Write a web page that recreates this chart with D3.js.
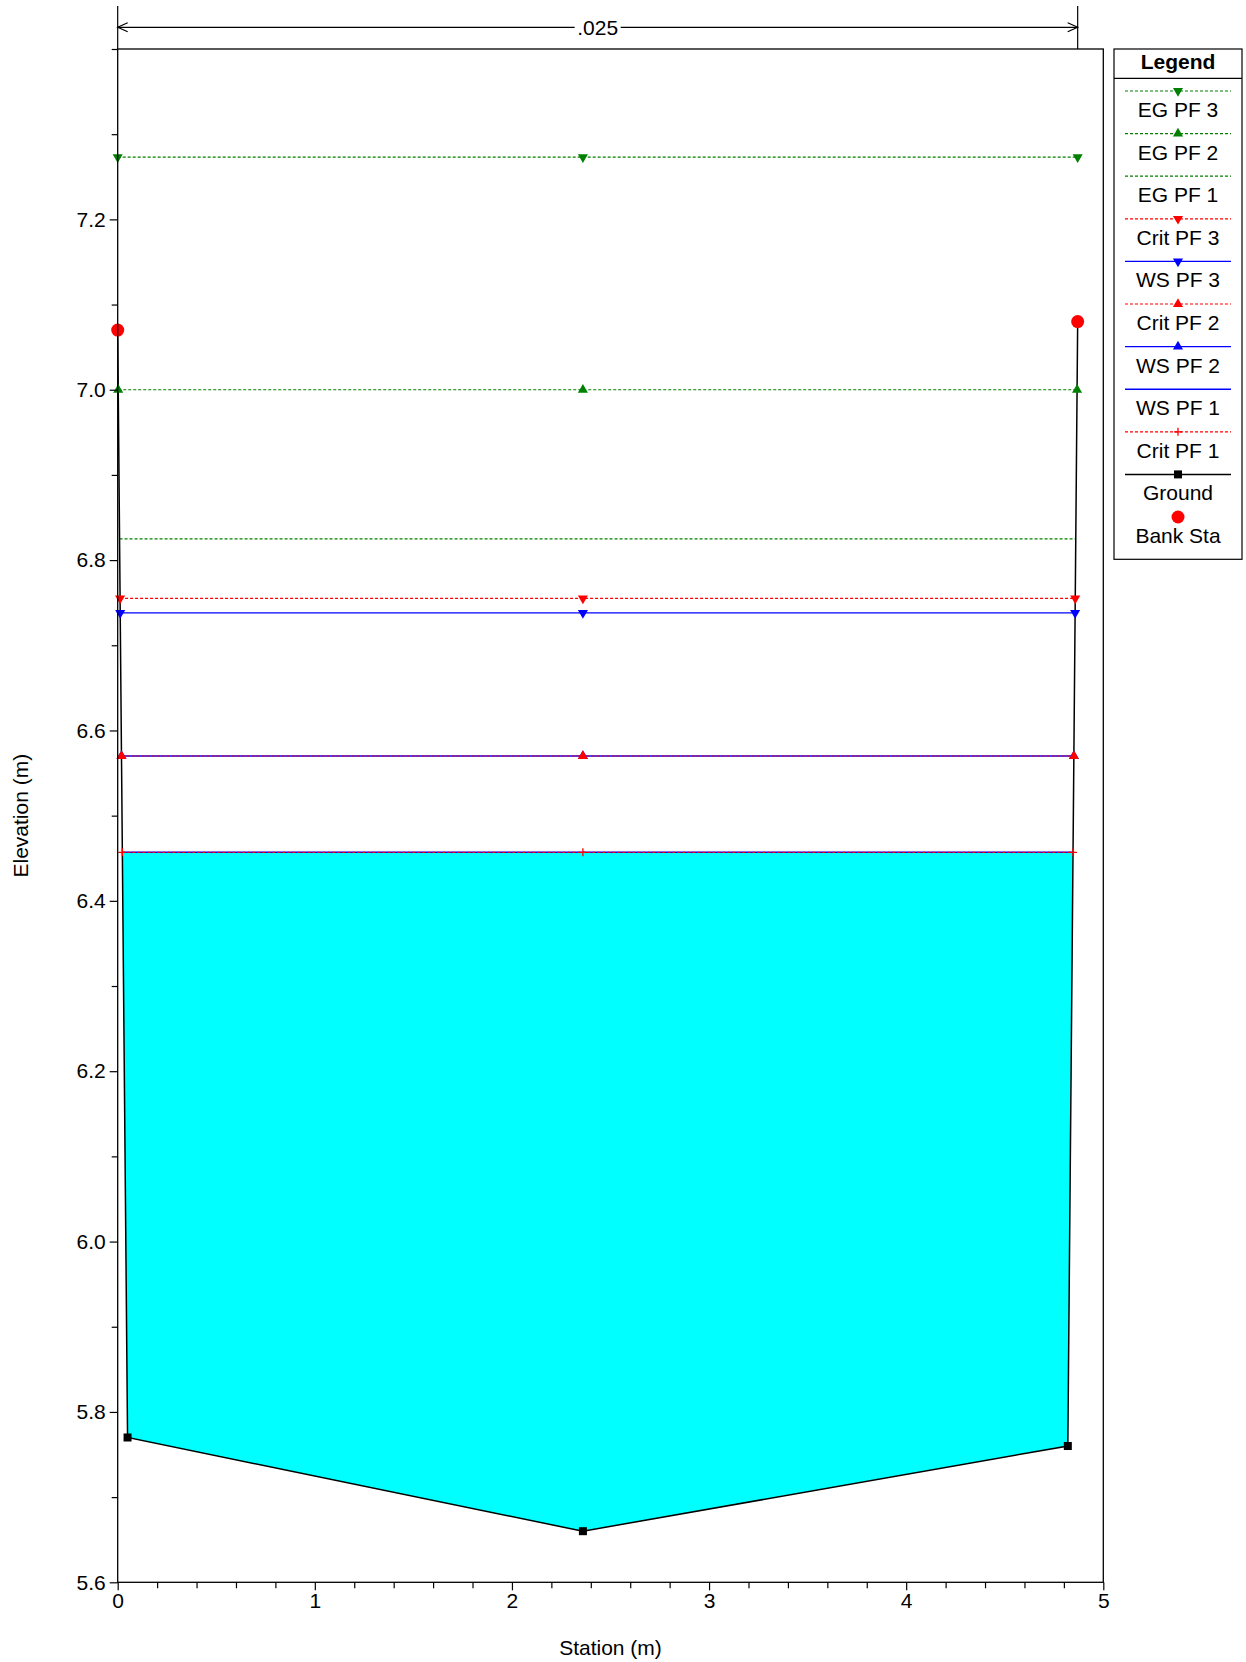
<!DOCTYPE html>
<html>
<head>
<meta charset="utf-8">
<script src="https://cdn.jsdelivr.net/npm/d3@7"></script>
<style>
  body { margin: 0; background: #fff; }
  svg text { font-family: "Liberation Sans", Arial, sans-serif; }
</style>
</head>
<body>
<svg id="chart" width="1246" height="1662"></svg>
<script>
// Cross section data
var groundStation = [0, 0.05, 2.36, 4.82, 4.87];
var groundElev = [7.07, 5.77, 5.66, 5.76, 7.08];
var bankStation = [0, 4.87];
var bankElev = [7.07, 7.08];

// Profiles, in legend order
var profileNames = ['EG PF 3', 'EG PF 2', 'EG PF 1', 'Crit PF 3', 'WS PF 3', 'Crit PF 2', 'WS PF 2', 'WS PF 1', 'Crit PF 1'];
var profileElev = [7.273, 7.000, 6.825, 6.755, 6.738, 6.570, 6.570, 6.457, 6.457];
var filledProfile = 'WS PF 1';

// Manning's n band along the top
var nValues = ['.025'];
var nStations = [0, 4.87];

var xTicks = [0, 1, 2, 3, 4, 5];
var yTicks = [5.6, 5.8, 6.0, 6.2, 6.4, 6.6, 6.8, 7.0, 7.2];

(function() {
// styling per profile
var Style = {
  'EG PF 3':   { color: '#008000', dash: '3,2', marker: 'down' },
  'EG PF 2':   { color: '#008000', dash: '3,2', marker: 'up' },
  'EG PF 1':   { color: '#008000', dash: '3,2', marker: null },
  'Crit PF 3': { color: '#ff0000', dash: '3,2', marker: 'down' },
  'WS PF 3':   { color: '#0000ff', dash: null,  marker: 'down' },
  'Crit PF 2': { color: '#ff0000', dash: '3,2', marker: 'up' },
  'WS PF 2':   { color: '#0000ff', dash: null,  marker: 'up' },
  'WS PF 1':   { color: '#0000ff', dash: null,  marker: null },
  'Crit PF 1': { color: '#ff0000', dash: '3,2', marker: 'plus' }
};

var svg = d3.select('#chart');
var pL = 117.7, pR = 1103.3, pT = 49, pB = 1582.3;
var x = d3.scaleLinear().domain([0, 5]).range([pL, pR]);
var y = d3.scaleLinear().domain([5.6, 7.4]).range([pB, pT]);

var ground = groundStation.map(function(s, i) { return [s, groundElev[i]]; });

// where a flat water surface meets the ground on each side
function edges(e) {
  var xl = ground[0][0], xr = ground[ground.length - 1][0];
  for (var i = 0; i < ground.length - 1; i++) {
    var a = ground[i], b = ground[i + 1];
    if (a[1] >= e && b[1] < e) { xl = a[0] + (b[0] - a[0]) * (a[1] - e) / (a[1] - b[1]); break; }
  }
  for (var j = ground.length - 1; j > 0; j--) {
    var c = ground[j], d = ground[j - 1];
    if (c[1] >= e && d[1] < e) { xr = c[0] - (c[0] - d[0]) * (c[1] - e) / (c[1] - d[1]); break; }
  }
  return [xl, xr];
}

var thalweg = groundStation[groundElev.indexOf(d3.min(groundElev))];
var line = d3.line().x(function(d) { return x(d[0]); }).y(function(d) { return y(d[1]); });

// water fill for the lowest profile
var fe = profileElev[profileNames.indexOf(filledProfile)];
var fEdge = edges(fe);
var poly = [[fEdge[0], fe]];
ground.forEach(function(p) { if (p[0] > fEdge[0] && p[0] < fEdge[1]) poly.push(p); });
poly.push([fEdge[1], fe]);
svg.append('path').attr('d', line(poly) + 'Z').attr('fill', '#00ffff');

function markerPath(kind) {
  if (kind === 'down' || kind === 'up') return d3.symbol().type(d3.symbolTriangle).size(44)();
  if (kind === 'plus') return 'M-4,0H4M0,-4V4';
  return null;
}

function drawMarker(g, kind, px, py, color) {
  if (!kind) return;
  var m = g.append('path').attr('d', markerPath(kind))
    .attr('transform', 'translate(' + px + ',' + py + ')' + (kind === 'down' ? ' rotate(180)' : ''));
  if (kind === 'plus') m.attr('fill', 'none').attr('stroke', color).attr('stroke-width', 1.3);
  else m.attr('fill', color);
}

// profile lines: lower first, blue WS under red crit where they coincide
var order = profileNames.slice().reverse();
order.sort(function(a, b) {
  var ea = profileElev[profileNames.indexOf(a)], eb = profileElev[profileNames.indexOf(b)];
  if (ea !== eb) return ea - eb;
  return (a.indexOf('WS') === 0 ? -1 : 1) - (b.indexOf('WS') === 0 ? -1 : 1);
});
var gLines = svg.append('g');
order.forEach(function(name) {
  var e = profileElev[profileNames.indexOf(name)];
  var st = Style[name];
  var ed = edges(e);
  gLines.append('line')
    .attr('x1', x(ed[0])).attr('x2', x(ed[1])).attr('y1', y(e)).attr('y2', y(e))
    .attr('stroke', st.color).attr('stroke-width', st.dash ? 1.2 : 1.4)
    .attr('stroke-dasharray', st.dash);
});

// ground
svg.append('path').attr('d', line(ground))
  .attr('fill', 'none').attr('stroke', '#000').attr('stroke-width', 1.5);

// markers on profiles
var gMarks = svg.append('g');
order.forEach(function(name) {
  var e = profileElev[profileNames.indexOf(name)];
  var st = Style[name];
  var ed = edges(e);
  [ed[0], thalweg, ed[1]].forEach(function(s) { drawMarker(gMarks, st.marker, x(s), y(e), st.color); });
});

// ground squares (interior points)
ground.slice(1, -1).forEach(function(p) {
  svg.append('rect').attr('x', x(p[0]) - 4).attr('y', y(p[1]) - 4).attr('width', 8).attr('height', 8).attr('fill', '#000');
});

// bank stations
bankStation.forEach(function(s, i) {
  svg.append('circle').attr('cx', x(s)).attr('cy', y(bankElev[i])).attr('r', 6.5).attr('fill', '#ff0000');
});

// plot frame
svg.append('rect').attr('x', pL).attr('y', pT).attr('width', pR - pL).attr('height', pB - pT)
  .attr('fill', 'none').attr('stroke', '#000').attr('stroke-width', 1.3);

// axes
function styleAxis(g) {
  g.select('.domain').remove();
  g.selectAll('line').attr('stroke', '#000').attr('stroke-width', 1.2);
  g.selectAll('text').attr('font-size', '21px').attr('fill', '#000')
    .attr('font-family', '"Liberation Sans", Arial, sans-serif');
}
var yMinor = d3.range(5.7, 7.45, 0.2).map(function(v) { return +v.toFixed(1); }).concat([7.4]);
var xMinor = d3.range(0.2, 5, 0.2).map(function(v) { return +v.toFixed(1); }).filter(function(v) { return v % 1 !== 0; });

svg.append('g').attr('transform', 'translate(' + pL + ',0)')
  .call(d3.axisLeft(y).tickValues(yTicks).tickSize(8).tickPadding(4).tickFormat(d3.format('.1f')))
  .call(styleAxis);
svg.append('g').attr('transform', 'translate(' + pL + ',0)')
  .call(d3.axisLeft(y).tickValues(yMinor).tickSize(6).tickFormat(''))
  .call(styleAxis);
svg.append('g').attr('transform', 'translate(0,' + pB + ')')
  .call(d3.axisBottom(x).tickValues(xTicks).tickSize(8).tickPadding(3).tickFormat(d3.format('d')))
  .call(styleAxis);
svg.append('g').attr('transform', 'translate(0,' + pB + ')')
  .call(d3.axisBottom(x).tickValues(xMinor).tickSize(6).tickFormat(''))
  .call(styleAxis);

svg.append('text').attr('x', (pL + pR) / 2).attr('y', 1655).attr('text-anchor', 'middle')
  .attr('font-size', '21px').text('Station (m)');
svg.append('text').attr('transform', 'translate(28,' + (pT + pB) / 2 + ') rotate(-90)')
  .attr('text-anchor', 'middle').attr('font-size', '21px').text('Elevation (m)');

// Manning's n dimension line
var dimY = 27.3;
var gDim = svg.append('g').attr('stroke', '#000').attr('fill', 'none').attr('stroke-width', 1.2);
nStations.forEach(function(s) {
  gDim.append('line').attr('x1', x(s)).attr('x2', x(s)).attr('y1', 6).attr('y2', pT);
});
for (var k = 0; k < nValues.length; k++) {
  var x1 = x(nStations[k]), x2 = x(nStations[k + 1]);
  gDim.append('line').attr('x1', x1).attr('x2', x2).attr('y1', dimY).attr('y2', dimY);
  gDim.append('path').attr('d', 'M' + (x1 + 10) + ',' + (dimY - 4.5) + 'L' + x1 + ',' + dimY + 'L' + (x1 + 10) + ',' + (dimY + 4.5));
  gDim.append('path').attr('d', 'M' + (x2 - 10) + ',' + (dimY - 4.5) + 'L' + x2 + ',' + dimY + 'L' + (x2 - 10) + ',' + (dimY + 4.5));
  var cx = (x1 + x2) / 2;
  svg.append('rect').attr('x', cx - 23).attr('y', dimY - 10).attr('width', 46).attr('height', 20).attr('fill', '#fff');
  svg.append('text').attr('x', cx).attr('y', dimY + 7.5).attr('text-anchor', 'middle').attr('font-size', '21px').text(nValues[k]);
}

// legend
var lgX = 1114, lgW = 128, lgTop = 49, lgBot = 559.3;
var lg = svg.append('g');
lg.append('rect').attr('x', lgX).attr('y', lgTop).attr('width', lgW).attr('height', lgBot - lgTop)
  .attr('fill', '#fff').attr('stroke', '#000').attr('stroke-width', 1.2);
lg.append('line').attr('x1', lgX).attr('x2', lgX + lgW).attr('y1', 78.3).attr('y2', 78.3).attr('stroke', '#000').attr('stroke-width', 1.2);
var lcx = lgX + lgW / 2;
lg.append('text').attr('x', lcx).attr('y', 69).attr('text-anchor', 'middle').attr('font-size', '21px')
  .attr('font-weight', 'bold').text('Legend');

var legendNames = profileNames.concat(['Ground', 'Bank Sta']);
legendNames.forEach(function(name, i) {
  var ly = 91 + i * 42.6;
  if (Style[name]) {
    var st = Style[name];
    lg.append('line').attr('x1', 1125).attr('x2', 1231).attr('y1', ly).attr('y2', ly)
      .attr('stroke', st.color).attr('stroke-width', st.dash ? 1.2 : 1.4).attr('stroke-dasharray', st.dash);
    drawMarker(lg, st.marker, lcx, ly, st.color);
  } else if (name === 'Ground') {
    lg.append('line').attr('x1', 1125).attr('x2', 1231).attr('y1', ly).attr('y2', ly).attr('stroke', '#000').attr('stroke-width', 1.5);
    lg.append('rect').attr('x', lcx - 4).attr('y', ly - 4).attr('width', 8).attr('height', 8).attr('fill', '#000');
  } else {
    lg.append('circle').attr('cx', lcx).attr('cy', ly).attr('r', 6.5).attr('fill', '#ff0000');
  }
  lg.append('text').attr('x', lcx).attr('y', ly + 26).attr('text-anchor', 'middle').attr('font-size', '21px').text(name);
});
})();
</script>
</body>
</html>
